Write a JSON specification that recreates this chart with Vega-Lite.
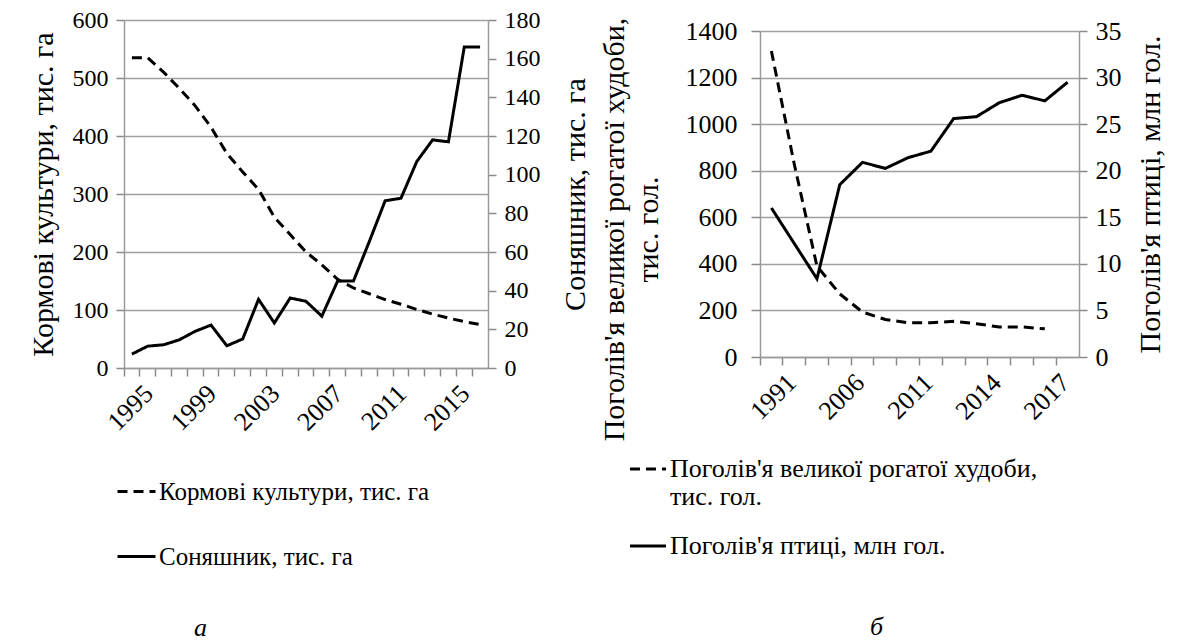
{
  "$schema": "https://vega.github.io/schema/vega-lite/v6.json",
  "background": "white",
  "padding": {"left": 28, "top": 8, "right": 0, "bottom": 0},
  "spacing": 272,
  "bounds": "flush",
  "center": true,
  "config": {
    "font": "DejaVu Serif",
    "view": {"stroke": null},
    "axis": {
      "labelFont": "serif", "titleFont": "Liberation Serif",
      "labelFontSize": 24, "titleFontSize": 30, "titleFontWeight": "normal",
      "labelColor": "black", "titleColor": "black",
      "domainColor": "#9a9a9a", "tickColor": "#8a8a8a", "gridColor": "#a0a0a0",
      "domainWidth": 1.5, "tickWidth": 1.5, "gridWidth": 1.5, "tickSize": 8, "ticks": true
    },
    "legend": {"labelFont": "Times New Roman", "labelFontSize": 25, "labelColor": "black", "labelLimit": 800},
    "title": {"font": "Liberation Serif", "fontSize": 26, "fontStyle": "italic", "fontWeight": "normal", "color": "black"}
  },
  "datasets": {
    "a": [
      {"year": "1995", "series": "Кормові культури, тис. га", "value": 535},
      {"year": "1996", "series": "Кормові культури, тис. га", "value": 535},
      {"year": "1997", "series": "Кормові культури, тис. га", "value": 510},
      {"year": "1998", "series": "Кормові культури, тис. га", "value": 482},
      {"year": "1999", "series": "Кормові культури, тис. га", "value": 452},
      {"year": "2000", "series": "Кормові культури, тис. га", "value": 415},
      {"year": "2001", "series": "Кормові культури, тис. га", "value": 370},
      {"year": "2002", "series": "Кормові культури, тис. га", "value": 338},
      {"year": "2003", "series": "Кормові культури, тис. га", "value": 308},
      {"year": "2004", "series": "Кормові культури, тис. га", "value": 260},
      {"year": "2005", "series": "Кормові культури, тис. га", "value": 230},
      {"year": "2006", "series": "Кормові культури, тис. га", "value": 200},
      {"year": "2007", "series": "Кормові культури, тис. га", "value": 178},
      {"year": "2008", "series": "Кормові культури, тис. га", "value": 153},
      {"year": "2009", "series": "Кормові культури, тис. га", "value": 138},
      {"year": "2010", "series": "Кормові культури, тис. га", "value": 128},
      {"year": "2011", "series": "Кормові культури, тис. га", "value": 118},
      {"year": "2012", "series": "Кормові культури, тис. га", "value": 110},
      {"year": "2013", "series": "Кормові культури, тис. га", "value": 101},
      {"year": "2014", "series": "Кормові культури, тис. га", "value": 93},
      {"year": "2015", "series": "Кормові культури, тис. га", "value": 86},
      {"year": "2016", "series": "Кормові культури, тис. га", "value": 80},
      {"year": "2017", "series": "Кормові культури, тис. га", "value": 75},
      {"year": "1995", "series": "Соняшник, тис. га", "value": 7.2},
      {"year": "1996", "series": "Соняшник, тис. га", "value": 11.3},
      {"year": "1997", "series": "Соняшник, тис. га", "value": 12},
      {"year": "1998", "series": "Соняшник, тис. га", "value": 14.6},
      {"year": "1999", "series": "Соняшник, тис. га", "value": 19},
      {"year": "2000", "series": "Соняшник, тис. га", "value": 22.2},
      {"year": "2001", "series": "Соняшник, тис. га", "value": 11.5},
      {"year": "2002", "series": "Соняшник, тис. га", "value": 15},
      {"year": "2003", "series": "Соняшник, тис. га", "value": 35.5},
      {"year": "2004", "series": "Соняшник, тис. га", "value": 23.3},
      {"year": "2005", "series": "Соняшник, тис. га", "value": 36.2},
      {"year": "2006", "series": "Соняшник, тис. га", "value": 34.5},
      {"year": "2007", "series": "Соняшник, тис. га", "value": 26.8},
      {"year": "2008", "series": "Соняшник, тис. га", "value": 45},
      {"year": "2009", "series": "Соняшник, тис. га", "value": 45},
      {"year": "2010", "series": "Соняшник, тис. га", "value": 65.4},
      {"year": "2011", "series": "Соняшник, тис. га", "value": 86.5},
      {"year": "2012", "series": "Соняшник, тис. га", "value": 87.8},
      {"year": "2013", "series": "Соняшник, тис. га", "value": 106.8},
      {"year": "2014", "series": "Соняшник, тис. га", "value": 118},
      {"year": "2015", "series": "Соняшник, тис. га", "value": 117},
      {"year": "2016", "series": "Соняшник, тис. га", "value": 166},
      {"year": "2017", "series": "Соняшник, тис. га", "value": 166}
    ],
    "b": [
      {"year": "1991", "series": "Поголів'я великої рогатої худоби, тис. гол.", "value": 1314},
      {"year": "1996", "series": "Поголів'я великої рогатої худоби, тис. гол.", "value": 830},
      {"year": "2001", "series": "Поголів'я великої рогатої худоби, тис. гол.", "value": 390},
      {"year": "2006", "series": "Поголів'я великої рогатої худоби, тис. гол.", "value": 271},
      {"year": "2008", "series": "Поголів'я великої рогатої худоби, тис. гол.", "value": 193},
      {"year": "2010", "series": "Поголів'я великої рогатої худоби, тис. гол.", "value": 161},
      {"year": "2011", "series": "Поголів'я великої рогатої худоби, тис. гол.", "value": 147},
      {"year": "2012", "series": "Поголів'я великої рогатої худоби, тис. гол.", "value": 147},
      {"year": "2013", "series": "Поголів'я великої рогатої худоби, тис. гол.", "value": 153},
      {"year": "2014", "series": "Поголів'я великої рогатої худоби, тис. гол.", "value": 143},
      {"year": "2015", "series": "Поголів'я великої рогатої худоби, тис. гол.", "value": 129},
      {"year": "2016", "series": "Поголів'я великої рогатої худоби, тис. гол.", "value": 129},
      {"year": "2017", "series": "Поголів'я великої рогатої худоби, тис. гол.", "value": 121},
      {"year": "1991", "series": "Поголів'я птиці, млн гол.", "value": 16.0},
      {"year": "1996", "series": "Поголів'я птиці, млн гол.", "value": 12.2},
      {"year": "2001", "series": "Поголів'я птиці, млн гол.", "value": 8.4},
      {"year": "2006", "series": "Поголів'я птиці, млн гол.", "value": 18.5},
      {"year": "2008", "series": "Поголів'я птиці, млн гол.", "value": 20.9},
      {"year": "2010", "series": "Поголів'я птиці, млн гол.", "value": 20.25},
      {"year": "2011", "series": "Поголів'я птиці, млн гол.", "value": 21.4},
      {"year": "2012", "series": "Поголів'я птиці, млн гол.", "value": 22.1},
      {"year": "2013", "series": "Поголів'я птиці, млн гол.", "value": 25.6},
      {"year": "2014", "series": "Поголів'я птиці, млн гол.", "value": 25.8},
      {"year": "2015", "series": "Поголів'я птиці, млн гол.", "value": 27.3},
      {"year": "2016", "series": "Поголів'я птиці, млн гол.", "value": 28.1},
      {"year": "2017", "series": "Поголів'я птиці, млн гол.", "value": 27.5},
      {"year": "2018", "series": "Поголів'я птиці, млн гол.", "value": 29.5}
    ]
  },
  "resolve": {
    "scale": {"x": "independent", "y": "independent", "strokeDash": "independent"},
    "legend": {"strokeDash": "independent"}
  },
  "hconcat": [
    {
      "width": 364, "height": 348,
      "data": {"name": "a"},
      "title": {"text": "а", "orient": "bottom", "anchor": "start", "frame": "group", "offset": 45, "dx": 70},
      "encoding": {
        "x": {
          "field": "year", "type": "ordinal", "sort": null, "bandPosition": 0.5,
          "scale": {"type": "band", "paddingInner": 0, "paddingOuter": 0},
          "axis": {
            "title": null, "bandPosition": 0, "labelAngle": -45, "labelOffset": 7.9,
            "labelOverlap": false, "labelPadding": 4, "labelFontSize": 26,
            "labelExpr": "indexof(['1995','1999','2003','2007','2011','2015'], datum.label) >= 0 ? datum.label : ''"
          }
        },
        "strokeDash": {
          "field": "series", "type": "nominal",
          "scale": {"domain": ["Кормові культури, тис. га", "Соняшник, тис. га"], "range": [[10, 6], [1, 0]]},
          "legend": {
            "title": null, "orient": "none", "legendX": -8, "legendY": 451,
            "symbolType": "stroke", "symbolStrokeWidth": 3, "symbolSize": 1444,
            "symbolStrokeColor": "black", "rowPadding": 31, "labelOffset": 2
          }
        }
      },
      "layer": [
        {
          "transform": [{"filter": "datum.series === 'Кормові культури, тис. га'"}],
          "mark": {"type": "line", "color": "black", "strokeWidth": 3},
          "encoding": {
            "y": {
              "field": "value", "type": "quantitative", "scale": {"domain": [0, 600]},
              "axis": {"title": "Кормові культури, тис. га", "orient": "left", "values": [0, 100, 200, 300, 400, 500, 600], "grid": true, "labelPadding": 8, "titlePadding": 14}
            }
          }
        },
        {
          "transform": [{"filter": "datum.series === 'Соняшник, тис. га'"}],
          "mark": {"type": "line", "color": "black", "strokeWidth": 3},
          "encoding": {
            "y": {
              "field": "value", "type": "quantitative", "scale": {"domain": [0, 180]},
              "axis": {"title": "Соняшник, тис. га", "orient": "right", "values": [0, 20, 40, 60, 80, 100, 120, 140, 160, 180], "grid": false, "titleAngle": 270, "titleBaseline": "top", "labelPadding": 8, "titlePadding": 20}
            }
          }
        }
      ],
      "resolve": {"scale": {"y": "independent"}}
    },
    {
      "width": 319, "height": 326,
      "data": {"name": "b"},
      "title": {"text": "б", "orient": "bottom", "anchor": "start", "frame": "group", "offset": 55, "dx": 110},
      "encoding": {
        "x": {
          "field": "year", "type": "ordinal", "sort": null, "bandPosition": 0.5,
          "scale": {"type": "band", "paddingInner": 0, "paddingOuter": 0, "domain": ["1991", "1996", "2001", "2006", "2008", "2010", "2011", "2012", "2013", "2014", "2015", "2016", "2017", "2018"]},
          "axis": {
            "title": null, "bandPosition": 0, "labelAngle": -45, "labelOffset": 11.4,
            "labelOverlap": false, "labelPadding": 4, "labelFontSize": 26,
            "labelExpr": "indexof(['1991','2006','2011','2014','2017'], datum.label) >= 0 ? datum.label : ''"
          }
        },
        "strokeDash": {
          "field": "series", "type": "nominal",
          "scale": {"domain": ["Поголів'я великої рогатої худоби, тис. гол.", "Поголів'я птиці, млн гол."], "range": [[10, 6], [1, 0]]},
          "legend": {
            "title": null, "orient": "none", "legendX": -132, "legendY": 418,
            "symbolType": "stroke", "symbolStrokeWidth": 3, "symbolSize": 1300,
            "symbolStrokeColor": "black", "rowPadding": 16, "labelOffset": 2, "labelFontSize": 26,
            "labelExpr": "indexof(datum.label, 'худоби') >= 0 ? [slice(datum.label, 0, indexof(datum.label, 'худоби') + 7), slice(datum.label, indexof(datum.label, 'худоби') + 8)] : datum.label"
          }
        }
      },
      "layer": [
        {
          "transform": [{"filter": "indexof(datum.series, 'худоби') >= 0"}],
          "mark": {"type": "line", "color": "black", "strokeWidth": 3},
          "encoding": {
            "y": {
              "field": "value", "type": "quantitative", "scale": {"domain": [0, 1400]},
              "axis": {"title": ["Поголів'я великої рогатої худоби,", "тис. гол."], "orient": "left", "format": "d", "values": [0, 200, 400, 600, 800, 1000, 1200, 1400], "grid": true, "tickSize": 9, "labelPadding": 14, "labelFontSize": 26, "titlePadding": 22, "titleY": 198, "titleLineHeight": 34}
            }
          }
        },
        {
          "transform": [{"filter": "indexof(datum.series, 'птиці') >= 0"}],
          "mark": {"type": "line", "color": "black", "strokeWidth": 3},
          "encoding": {
            "y": {
              "field": "value", "type": "quantitative", "scale": {"domain": [0, 35]},
              "axis": {"title": "Поголів'я птиці, млн гол.", "orient": "right", "values": [0, 5, 10, 15, 20, 25, 30, 35], "grid": false, "titleAngle": 270, "titleBaseline": "top", "labelPadding": 8, "labelFontSize": 26, "titlePadding": 14}
            }
          }
        }
      ],
      "resolve": {"scale": {"y": "independent"}}
    }
  ]
}
